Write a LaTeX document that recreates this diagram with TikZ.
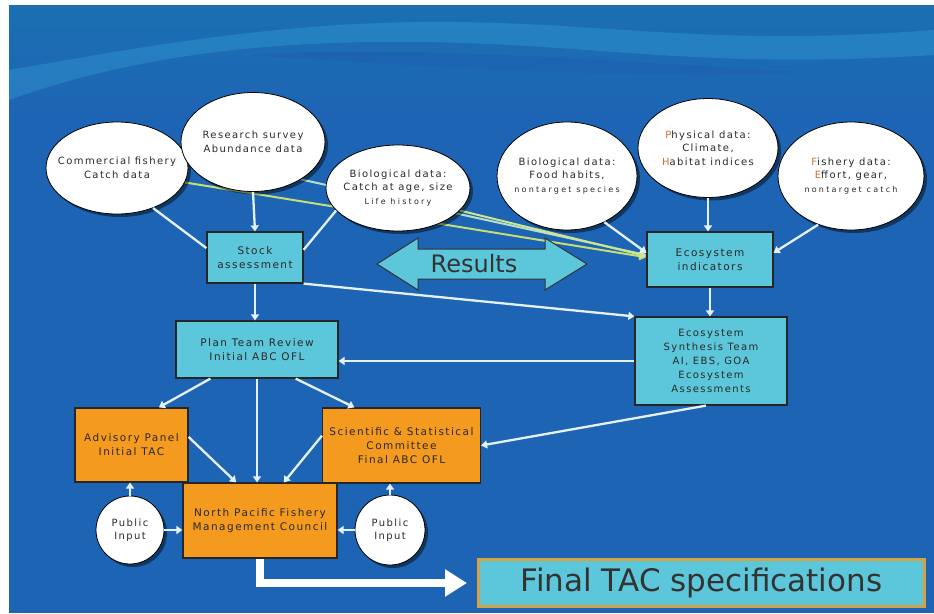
\documentclass[tikz,border=0pt]{standalone}
\usepackage{fontspec}
\setmainfont{DejaVu Sans}
\newfontfamily\labfont[LetterSpace=14]{DejaVu Sans}
\newfontfamily\smallfont[LetterSpace=28]{DejaVu Sans}
\usetikzlibrary{arrows.meta,shadows,shapes.geometric}
\definecolor{bgblue}{HTML}{1E64B4}
\definecolor{topblue}{HTML}{1A70B2}
\definecolor{swoosh}{HTML}{3AA6DA}
\definecolor{ridge}{HTML}{1C5FB0}
\definecolor{boxcyan}{HTML}{5CC6DA}
\definecolor{boxorange}{HTML}{F39A1F}
\definecolor{tanborder}{HTML}{D4A245}
\definecolor{txt}{HTML}{2A2A2A}
\definecolor{linecol}{HTML}{E4F0FA}
\definecolor{ygreen}{HTML}{C4DE72}
\definecolor{pgreen}{HTML}{B4E0C8}
\definecolor{accent}{HTML}{C8743A}
\pgfdeclarelayer{back}
\pgfdeclarelayer{mid}
\pgfsetlayers{back,mid,main}
\newcommand{\smalltxt}[1]{{\smallfont\fontsize{8}{10}\selectfont #1}}
\begin{document}
\begin{tikzpicture}[x=1pt,y=-1pt,
 oval/.style={ellipse, draw=black, line width=0.8pt, fill=white, inner xsep=-24pt, inner ysep=-12pt, align=center, text=txt,
   font=\labfont\fontsize{10}{13.5}\selectfont,
   drop shadow={shadow xshift=3pt, shadow yshift=-3pt, opacity=0.45, fill=black}},
 pub/.style={oval, circle, inner sep=0pt},
 cbox/.style={rectangle, draw=black!85, line width=1.2pt, fill=boxcyan, inner sep=1pt, align=center, text=txt,
   font=\labfont\fontsize{10.5}{14}\selectfont},
 obox/.style={cbox, fill=boxorange},
 wl/.style={draw=linecol, line width=2.3pt},
 wa/.style={wl, -{Triangle[width=8pt,length=6pt]}},
 ga/.style={line width=2pt, -{Triangle[width=8pt,length=7pt]}},
]
\useasboundingbox (0,0) rectangle (934,613);
\begin{pgfonlayer}{back}
\fill[white] (0,0) rectangle (934,613);
\fill[bgblue] (9,5) rectangle (934,613);
\fill[top color=topblue, bottom color=bgblue] (9,5) rectangle (934,115);
\fill[swoosh, opacity=0.35] (9,100) .. controls (120,60) and (250,40) .. (420,42) .. controls (600,44) and (700,70) .. (934,55) -- (934,30) .. controls (700,48) and (600,20) .. (420,22) .. controls (250,24) and (100,55) .. (9,70) -- cycle;
\fill[ridge, opacity=0.5] (250,55) .. controls (400,45) and (600,60) .. (800,72) .. controls (700,80) and (450,70) .. (250,55) -- cycle;
\end{pgfonlayer}

% data ellipses
\node[oval, minimum width=142pt, minimum height=92pt] (cf) at (117,168) {Commercial fishery\\Catch data};
\node[oval, minimum width=144pt, minimum height=99pt] (rs) at (253,142) {Research survey\\Abundance data};
\node[oval, minimum width=144pt, minimum height=86pt] (bl) at (398,188) {Biological data:\\Catch at age, size\\\smalltxt{Life history}};
\node[oval, minimum width=140pt, minimum height=108pt] (br) at (567,176) {Biological data:\\Food habits,\\\smalltxt{nontarget species}};
\node[oval, minimum width=140pt, minimum height=99pt] (ph) at (708,148) {{\color{accent}P}hysical data:\\Climate,\\{\color{accent}H}abitat indices};
\node[oval, minimum width=146pt, minimum height=108pt] (fd) at (851,176) {{\color{accent}F}ishery data:\\{\color{accent}E}ffort, gear,\\\smalltxt{nontarget catch}};

% boxes
\node[cbox, minimum width=96pt, minimum height=51pt] (sa) at (255,257.5) {Stock\\assessment};
\node[cbox, minimum width=126pt, minimum height=55pt] (ei) at (710,259.5) {Ecosystem\\indicators};
\node[cbox, minimum width=162pt, minimum height=57pt] (pt) at (257,349.5) {Plan Team Review\\Initial ABC OFL};
\node[cbox, minimum width=152pt, minimum height=88pt, font=\labfont\fontsize{10}{14}\selectfont] (es) at (711,361) {Ecosystem\\Synthesis Team\\AI, EBS, GOA\\Ecosystem\\Assessments};
\node[obox, minimum width=113pt, minimum height=74pt] (ap) at (131.5,445) {Advisory Panel\\Initial TAC};
\node[obox, minimum width=158pt, minimum height=75pt] (ssc) at (401.5,445.5) {Scientific \& Statistical\\Committee\\Final ABC OFL};
\node[obox, minimum width=154pt, minimum height=75pt] (np) at (260,520.5) {North Pacific Fishery\\Management Council};
\node[pub, minimum size=68pt] (pl) at (130,530) {Public\\Input};
\node[pub, minimum size=70pt] (pr) at (390,530) {Public\\Input};
\node[draw=tanborder, line width=3pt, fill=boxcyan, minimum width=446pt, minimum height=47pt, inner sep=0pt,
  font=\fontsize{31}{34}\selectfont, text=black!80] (ft) at (701.5,583) {Final TAC specifications};

% Results double arrow
\fill[boxcyan, draw=black!80, line width=1pt] (377,264) -- (418,238) -- (418,249) -- (545,249) -- (545,238) -- (587,264) -- (545,290) -- (545,279) -- (418,279) -- (418,290) -- cycle;
\node[text=black!80, font=\fontsize{24}{28}\selectfont] (res) at (474,264) {Results};

% green lines behind the ellipses
\begin{pgfonlayer}{mid}
\draw[ga, ygreen] (cf.-12) -- (ei.178);
\draw[ga, pgreen] (rs.-38) -- (ei.176);
\draw[ga, ygreen!80!white] (bl.-20) -- (ei.177);
\end{pgfonlayer}

% white connectors
\draw[wl] (cf.-48) -- (sa.169);
\draw[wl] (bl.-160) -- (sa.9);
\draw[wa] (rs.south) -- (sa.north);
\draw[wa] (sa.south) -- (sa.south |- pt.north);
\draw[wa] (sa.south east) -- (es.north west);
\draw[wa] (br.-51) -- (ei.174);
\draw[wa] (ph.south) -- (ph.south |- ei.north);
\draw[wa] (fd.-124) -- (ei.6);
\draw[wa] (ei.south) -- (ei.south |- es.north);
\draw[wa] (es.west) -- (es.west -| pt.east);
\draw[wa] ([xshift=-5pt]es.south) -- (ssc.east);
\draw[wa] (pt.-148) -- (ap.54);
\draw[wa] (pt.-37) -- (ssc.141);
\draw[wa] (pt.south) -- (pt.south |- np.north);
\draw[wa] (ap.8) -- (np.122);
\draw[wa] (ssc.173) -- (np.58);
\draw[wa] (pl.north) -- (pl.north |- ap.south);
\draw[wa] (pl.east) -- (pl.east -| np.west);
\draw[wa] (pr.north) -- (pr.north |- ssc.south);
\draw[wa] (pr.west) -- (pr.west -| np.east);
\draw[draw=white, line width=8pt, -{Triangle[width=26pt,length=22pt]}, shorten >=10pt] (np.south) |- (ft.west);
\end{tikzpicture}
\end{document}
